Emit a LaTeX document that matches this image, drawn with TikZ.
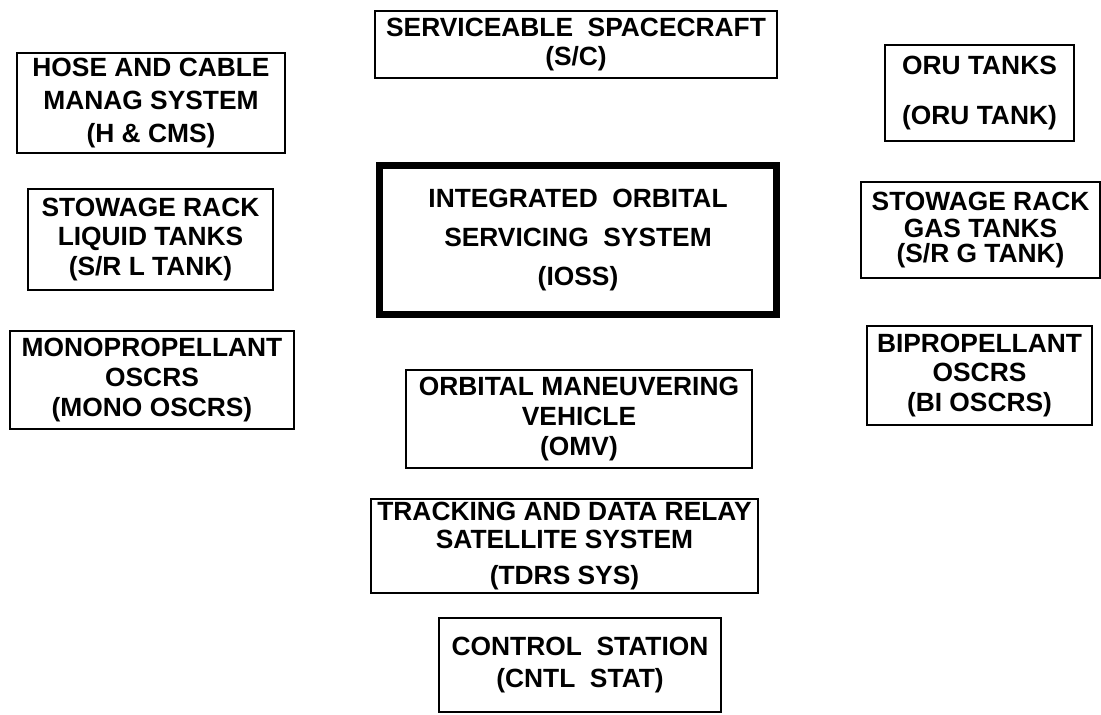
\documentclass[tikz,border=0pt]{standalone}
\usepackage{fontspec}
\setmainfont{Liberation Sans}
\usepackage{tikz}
\usetikzlibrary{positioning}
\tikzset{
  every picture/.style={line width=1.2pt},
  sbox/.style={draw, rectangle, inner sep=0pt, align=center,
               font=\fontsize{15}{17}\selectfont\bfseries},
  sbig/.style={sbox, line width=4pt},
  sdim/.style 2 args={minimum width={#1*0.02cm}, minimum height={#2*0.02cm}},
}

\begin{document}
\begin{tikzpicture}[x=0.02cm, y=-0.02cm]
\useasboundingbox (0,0) rectangle (1101,715);
% top row
\node[sbox, sdim={402}{67}] (sc) at (576,44.5) {SERVICEABLE \ SPACECRAFT\\(S/C)};
\node[sbox, sdim={268}{100}] (hcms) at (151,103) {HOSE AND CABLE\\[2pt]MANAG SYSTEM\\[2pt](H \& CMS)};
\node[sbox, sdim={189}{96}] (oru) at (979.5,93) {ORU TANKS\\[11.5pt](ORU TANK)};
% middle row
\node[sbox, sdim={245}{101}] (srl) at (150.5,239.5) {STOWAGE RACK\\LIQUID TANKS\\(S/R L TANK)};
\node[sbig, sdim={397}{149}] (ioss) at (578,240) {INTEGRATED \ ORBITAL\\[5pt]SERVICING \ SYSTEM\\[5pt](IOSS)};
\node[sbox, sdim={239}{96}] (srg) at (980.5,230) {STOWAGE RACK\\[-1.6pt]GAS TANKS\\[-3pt](S/R G TANK)};
% oscrs row
\node[sbox, sdim={284}{98}] (mono) at (152,380) {MONOPROPELLANT\\OSCRS\\(MONO OSCRS)};
\node[sbox, sdim={346}{98}] (omv) at (579,419) {ORBITAL MANEUVERING\\VEHICLE\\(OMV)};
\node[sbox, sdim={225}{99}] (bi) at (979.5,375.5) {BIPROPELLANT\\OSCRS\\(BI OSCRS)};
% bottom
\node[sbox, sdim={387}{94}] (tdrs) at (564.5,546) {TRACKING AND DATA RELAY\\[-1pt]SATELLITE SYSTEM\\[3pt](TDRS SYS)};
\node[sbox, sdim={282}{94}] (cntl) at (580,665) {CONTROL \ STATION\\[1pt](CNTL \ STAT)};
\end{tikzpicture}
\end{document}
